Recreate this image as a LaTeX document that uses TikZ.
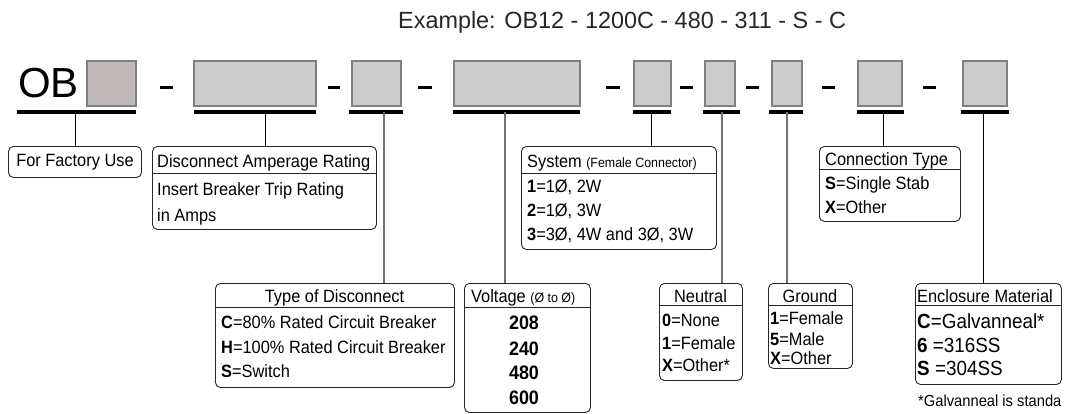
\documentclass[tikz,border=0pt]{standalone}
\usepackage{fontspec}
\setmainfont{Liberation Sans}[FakeStretch=0.92]
\newfontfamily\widefont{Liberation Sans}
\usepackage{tikz}
\definecolor{obgray}{RGB}{190,184,184}
\definecolor{codegray}{RGB}{204,204,204}
\definecolor{edgegray}{RGB}{128,128,128}
\newcommand{\boxfont}{\fontsize{17.8}{20}\selectfont}
\newcommand{\bigfont}{\fontsize{20.5}{24}\selectfont}
\newcommand{\smallfont}{\fontsize{13.5}{16}\selectfont}
\tikzset{
  codebox/.style={draw=edgegray, fill=codegray, line width=1.6pt, inner sep=0pt, minimum height=45pt},
  keybox/.style={draw=black!85, rounded corners=5pt, line width=0.9pt, anchor=north west, inner sep=0pt, font=\boxfont},
  entry/.style={anchor=base west, inner sep=0pt, font=\boxfont},
  header/.style={anchor=base, inner sep=0pt, font=\boxfont},
  underline/.style={line width=3.5pt},
  dashline/.style={line width=3pt},
  lead/.style={line width=0.8pt, black},
  glead/.style={line width=1.4pt, black!55},
  sepline/.style={line width=0.9pt, black!85}
}

\begin{document}
\begin{tikzpicture}[x=1pt, y=-1pt]
    \useasboundingbox (0,0) rectangle (1066,413);
    % example line and the OB prefix
    \node[anchor=base west, inner sep=0pt, font=\widefont\fontsize{23.4}{28}\selectfont, text=black!85] (example) at (398,28) {Example: OB12 - 1200C - 480 - 311 - S - C};
    \node[anchor=base west, inner sep=0pt, font=\widefont\fontsize{42}{48}\selectfont] (ob) at (18,97) {OB};
    % code fields, underlines and lead points
    \foreach \i/\xa/\xb/\ua/\ub/\ux in {1/87/136/17/136/75, 2/194/316/194/316/265, 3/352/401/349/403/384,
        4/454/580/453/580/505, 5/634/671/633/671/651, 6/705/735/703/740/722, 7/772/802/769/803/787,
        8/858/902/857/904/883, 9/963/1007/961/1009/983} {
        \pgfmathsetmacro\w{\xb-\xa}
        \node[codebox, minimum width=\w pt] (c\i) at ({(\xa+\xb)/2},83.5) {};
        \draw[underline] (\ua,112) -- (\ub,112);
        \coordinate (u\i) at (\ux,112);
    }
    \node[codebox, fill=obgray, minimum width=49pt] at (c1) {};
    % dashes between fields
    \foreach \a/\b in {160/173, 328/340, 418/432, 606/620, 680/693, 746/759, 822/835, 923/936} {
        \draw[dashline] (\a,87) -- (\b,87);
    }
    % upper row of keys
    \node[keybox, minimum width=133pt, minimum height=31pt, anchor=north west] (factory) at (8,146) {};
    \node[font=\boxfont, inner sep=0pt] (factorytxt) at (factory.center) {For Factory Use};
    \node[keybox, minimum width=224pt, minimum height=83pt] (amp) at (152,146) {};
    \draw[sepline] ([yshift=-27pt]amp.north west) -- ([yshift=-27pt]amp.north east);
    \node[entry] (amph) at (157,167) {Disconnect Amperage Rating};
    \node[entry] (amp1) at (157,195) {Insert Breaker Trip Rating};
    \node[entry] (amp2) at (157,221) {in Amps};
    \node[keybox, minimum width=195pt, minimum height=103pt] (sys) at (521,146) {};
    \draw[sepline] ([yshift=-27pt]sys.north west) -- ([yshift=-27pt]sys.north east);
    \node[entry] (sysh) at (527,167) {System {\smallfont(Female Connector)}};
    \node[entry] (sys1) at (527,192) {\textbf{1}=1Ø, 2W};
    \node[entry] (sys2) at (527,216) {\textbf{2}=1Ø, 3W};
    \node[entry] (sys3) at (527,240) {\textbf{3}=3Ø, 4W and 3Ø, 3W};
    \node[keybox, minimum width=141pt, minimum height=75pt] (conn) at (819,146) {};
    \draw[sepline] ([yshift=-23pt]conn.north west) -- ([yshift=-23pt]conn.north east);
    \node[entry] (connh) at (825,165) {Connection Type};
    \node[entry] (conn1) at (825,189) {\textbf{S}=Single Stab};
    \node[entry] (conn2) at (825,213) {\textbf{X}=Other};
    % lower row of keys
    \node[keybox, minimum width=239pt, minimum height=104pt] (tod) at (215,283) {};
    \draw[sepline] ([yshift=-24pt]tod.north west) -- ([yshift=-24pt]tod.north east);
    \node[header] (todh) at (334.5,302) {Type of Disconnect};
    \node[entry] (tod1) at (221,328) {\textbf{C}=80\% Rated Circuit Breaker};
    \node[entry] (tod2) at (221,353) {\textbf{H}=100\% Rated Circuit Breaker};
    \node[entry] (tod3) at (221,377) {\textbf{S}=Switch};
    \node[keybox, minimum width=126pt, minimum height=129pt] (volt) at (464,283) {};
    \draw[sepline] ([yshift=-24pt]volt.north west) -- ([yshift=-24pt]volt.north east);
    \node[entry] (volth) at (471,302) {Voltage {\smallfont(Ø to Ø)}};
    \foreach \v/\y in {208/329, 240/355, 480/379, 600/404} {
        \node[header, font=\fontsize{19.5}{22}\selectfont\bfseries] (volt\v) at (524,\y) {\v};
    }
    \node[keybox, minimum width=83pt, minimum height=97pt] (neut) at (659,283) {};
    \draw[sepline] ([yshift=-22pt]neut.north west) -- ([yshift=-22pt]neut.north east);
    \node[header] (neuth) at (700.5,302) {Neutral};
    \node[entry] (neut1) at (662,326) {\textbf{0}=None};
    \node[entry] (neut2) at (662,349) {\textbf{1}=Female};
    \node[entry] (neut3) at (662,371) {\textbf{X}=Other*};
    \node[keybox, minimum width=84pt, minimum height=85pt] (gnd) at (768,283) {};
    \draw[sepline] ([yshift=-22pt]gnd.north west) -- ([yshift=-22pt]gnd.north east);
    \node[header] (gndh) at (810,302) {Ground};
    \node[entry] (gnd1) at (770,324) {\textbf{1}=Female};
    \node[entry] (gnd2) at (770,345) {\textbf{5}=Male};
    \node[entry] (gnd3) at (770,364) {\textbf{X}=Other};
    \node[keybox, minimum width=146pt, minimum height=101pt] (encl) at (915,283) {};
    \draw[sepline] ([yshift=-22pt]encl.north west) -- ([yshift=-22pt]encl.north east);
    \node[entry] (enclh) at (917,302) {Enclosure Material};
    \node[entry, font=\bigfont] (encl1) at (917,328) {\textbf{C}=Galvanneal*};
    \node[entry, font=\bigfont] (encl2) at (917,352) {\textbf{6} =316SS};
    \node[entry, font=\bigfont] (encl3) at (917,375) {\textbf{S} =304SS};
    \node[entry, font=\fontsize{16}{19}\selectfont] (note) at (918,406) {*Galvanneal is standa};
    % leads from the fields down to their keys
    \foreach \i/\t/\s in {1/factory/lead, 2/amp/lead, 3/tod/glead, 4/volt/glead, 5/sys/lead,
        6/neut/glead, 7/gnd/glead, 8/conn/lead, 9/encl/lead} {
        \draw[\s] (u\i) -- (u\i |- \t.north);
    }
\end{tikzpicture}
\end{document}
